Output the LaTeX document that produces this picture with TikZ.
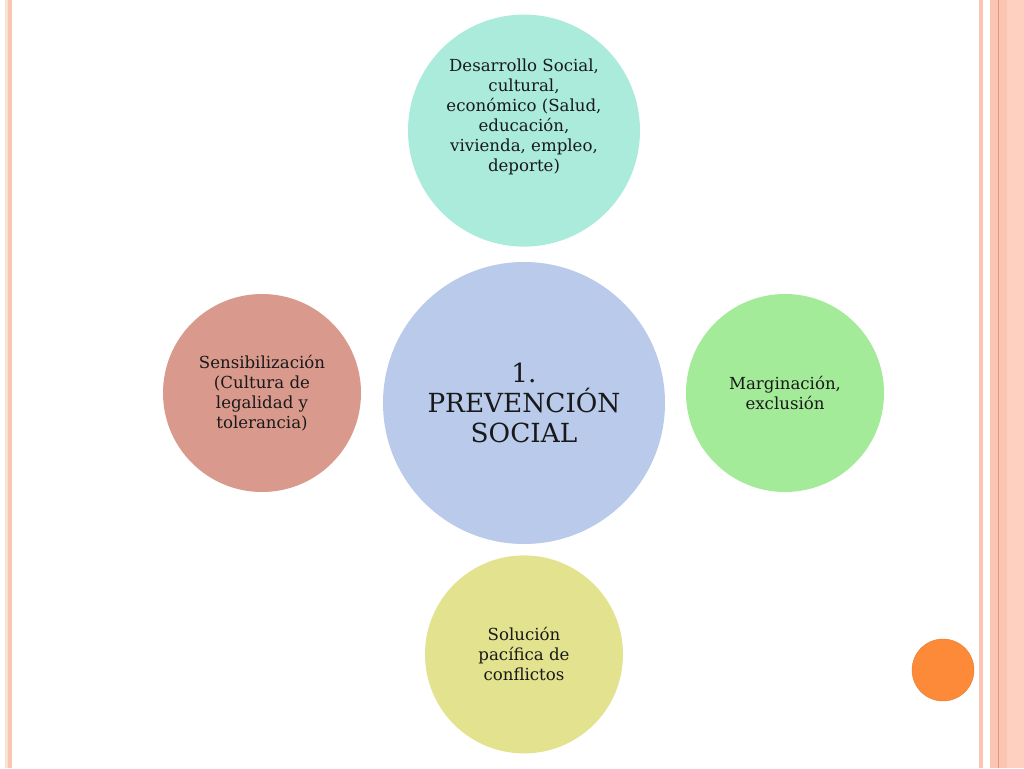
\documentclass[tikz,border=0pt]{standalone}
\usepackage{fontspec}
\setmainfont{DejaVu Serif}
\usetikzlibrary{positioning}
\definecolor{cprev}{HTML}{B9CAEA}
\definecolor{cdes}{HTML}{ABEBDC}
\definecolor{csen}{HTML}{D99A8D}
\definecolor{cmar}{HTML}{A3EB99}
\definecolor{csol}{HTML}{E2E28F}
\definecolor{corange}{HTML}{FD8A38}
\definecolor{csalmon}{HTML}{FBC5B4}
\definecolor{cbeige}{HTML}{F6E3D3}
\definecolor{cpink}{HTML}{FDD0C0}
\definecolor{cline}{HTML}{E8946E}
\begin{document}
\begin{tikzpicture}[x=1pt,y=-1pt,
    circ/.style={circle,inner sep=0pt,align=center,text=black!90,
      font=\fontsize{16.6}{20}\selectfont},
    txt/.style={inner sep=0pt,align=center,text=black!90,
      font=\fontsize{16.6}{20}\selectfont}]
     \useasboundingbox (0,0) rectangle (1024,768);
     \fill[white] (0,0) rectangle (1024,768);
 
     % left border
     \fill[cbeige] (5,0) rectangle (8,768);
     \fill[csalmon] (8,0) rectangle (12,768);
 
     % right border
     \fill[csalmon] (979,0) rectangle (983,768);
     \fill[csalmon] (990,0) rectangle (1007,768);
     \fill[cpink] (1007,0) rectangle (1024,768);
     \fill[cline] (998,0) rectangle (999.2,768);
 
     \node[circ,minimum size=282,fill=cprev,
       font=\fontsize{26.3}{30}\selectfont] (prev) at (524,403) {1.\\PREVENCIÓN\\SOCIAL};
     \node[circ,minimum size=232,fill=cdes,above=15pt of prev] (des) {};
     \node[txt] (destext) at ([yshift=14pt]des.center)
       {Desarrollo Social,\\cultural,\\económico (Salud,\\educación,\\vivienda, empleo,\\deporte)};
     \node[circ,minimum size=198,fill=csol,below=11pt of prev] (sol)
       {Solución\\pacífica de\\conflictos};
     \node[circ,minimum size=198,fill=csen] (sen) at (262,393)
       {Sensibilización\\(Cultura de\\legalidad y\\tolerancia)};
     \node[circ,minimum size=198,fill=cmar] (mar) at (785,393)
       {Marginación,\\exclusión};
 
     \node[circle,minimum size=62,inner sep=0pt,fill=corange,draw=corange!90!black] (dot) at (943,670) {};
\end{tikzpicture}
\end{document}
